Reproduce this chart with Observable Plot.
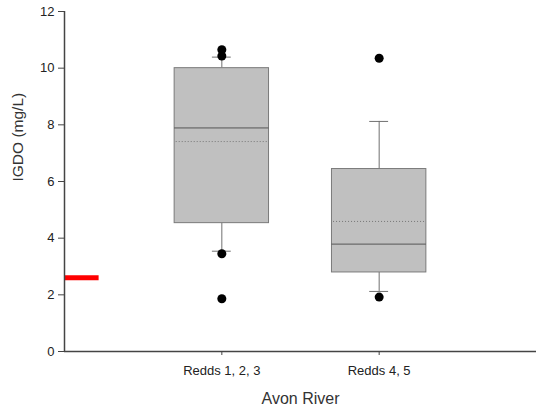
<!DOCTYPE html>
<html><head><meta charset="utf-8">
<script src="https://cdn.jsdelivr.net/npm/d3@7"></script>
<script src="https://cdn.jsdelivr.net/npm/@observablehq/plot@0.6"></script>
<style>body{margin:0;background:#fff;} svg{display:block;}</style>
</head><body><div id="chart"></div>
<script>
const groups = ["Redds 1, 2, 3", "Redds 4, 5"];
const positions = [1, 2];
const q1 = [4.53, 2.79];
const median = [7.89, 3.79];
const q3 = [10.0, 6.44];
const mean = [7.41, 4.59];
const whiskerLow = [3.54, 2.12];
const whiskerHigh = [10.39, 8.12];
const outlierGroup = [0, 0, 0, 0, 1, 1];
const outlierValue = [10.65, 10.43, 3.45, 1.86, 10.35, 1.92];
const threshold = 2.6;

const boxes = groups.map((g, i) => ({g, x: positions[i], q1: q1[i], med: median[i], q3: q3[i], mean: mean[i], lo: whiskerLow[i], hi: whiskerHigh[i]}));
const outliers = outlierValue.map((v, i) => ({x: positions[outlierGroup[i]], v}));
const hw = 0.3, cw = 0.06;

const chart = Plot.plot({
  width: 536, height: 409,
  marginLeft: 64, marginRight: 0, marginTop: 11, marginBottom: 58,
  style: {fontFamily: "Liberation Sans, Arial, sans-serif", fontSize: "13px", color: "#222"},
  x: {domain: [0, 3], axis: null},
  y: {domain: [0, 12], axis: null},
  marks: [
    Plot.ruleX(boxes, {x: "x", y1: "lo", y2: "q1", stroke: "#707070"}),
    Plot.ruleX(boxes, {x: "x", y1: "q3", y2: "hi", stroke: "#707070"}),
    Plot.ruleY(boxes, {y: "lo", x1: d => d.x - cw, x2: d => d.x + cw, stroke: "#707070"}),
    Plot.ruleY(boxes, {y: "hi", x1: d => d.x - cw, x2: d => d.x + cw, stroke: "#707070"}),
    Plot.rectY(boxes, {x1: d => d.x - hw, x2: d => d.x + hw, y1: "q1", y2: "q3", fill: "#c0c0c0", stroke: "#7a7a7a", strokeWidth: 1}),
    Plot.ruleY(boxes, {y: "med", x1: d => d.x - hw, x2: d => d.x + hw, stroke: "#555", strokeWidth: 1}),
    Plot.ruleY(boxes, {y: "mean", x1: d => d.x - hw + 0.01, x2: d => d.x + hw - 0.01, stroke: "#777", strokeWidth: 1, strokeDasharray: "1,2"}),
    Plot.dot(outliers, {x: "x", y: "v", r: 4.5, fill: "#000"}),
    Plot.ruleY([threshold], {x1: 0, x2: 0.22, stroke: "#ff0000", strokeWidth: 5}),
    Plot.ruleY([0], {stroke: "#444", strokeWidth: 1.5}),
    Plot.ruleX([0], {stroke: "#444", strokeWidth: 1.5}),
    Plot.axisY({ticks: d3.range(0, 13, 2), tickSize: 6, tickPadding: 4, stroke: "#444", label: null, fontSize: 13}),
    Plot.axisX({ticks: positions, tickFormat: d => groups[positions.indexOf(d)], tickSize: 4, tickPadding: 10, stroke: "#444", label: null, fontSize: 13}),
    Plot.text(["IGDO (mg/L)"], {frameAnchor: "left", dx: -46, rotate: -90, fontSize: 15.5, fill: "#333"}),
    Plot.text(["Avon River"], {x: 1.5, y: 0, dy: 47, fontSize: 16, fill: "#333"})
  ]
});
document.getElementById("chart").appendChild(chart);
</script></body></html>
